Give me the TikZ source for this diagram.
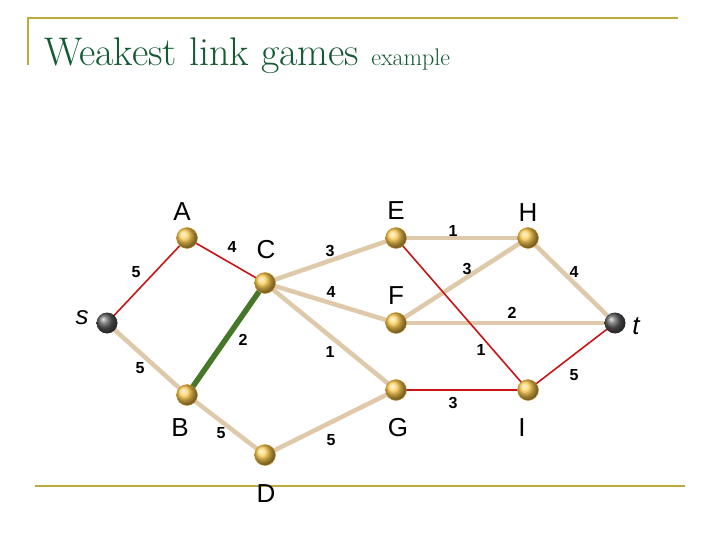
\documentclass[tikz,border=0pt]{standalone}
\usepackage{fontspec}
\setsansfont{Liberation Sans}
\begin{document}
\begin{tikzpicture}[x=1pt,y=-1pt,
  ball/.style={circle,inner sep=0pt,minimum size=21pt,shading=ball,ball color={rgb,255:red,255;green,205;blue,80},draw={rgb,255:red,210;green,150;blue,40},line width=0.4pt},
  gball/.style={circle,inner sep=0pt,minimum size=21pt,shading=ball,ball color=gray!70!black},
  tan/.style={line width=4.5pt,color={rgb,255:red,222;green,202;blue,170}},
  red/.style={line width=1.6pt,color={rgb,255:red,200;green,20;blue,20}},
  grn/.style={line width=5.5pt,color={rgb,255:red,70;green,120;blue,40}},
  lab/.style={font=\sffamily\bfseries\fontsize{16}{18}\selectfont},
  nm/.style={font=\sffamily\fontsize{26}{30}\selectfont}]
\useasboundingbox (0,0) rectangle (720,540);
\fill[white] (0,0) rectangle (720,540);
\draw[color={rgb,255:red,190;green,170;blue,60},line width=1.2pt] (28,65)--(28,18)--(678,18);
\draw[color={rgb,255:red,190;green,170;blue,60},line width=1.2pt] (35,486)--(685,486);
\node[anchor=base west,inner sep=0pt,text={rgb,255:red,20;green,90;blue,50}] (ttl) at (44,66) {\fontsize{40}{46}\selectfont Weakest link games \fontsize{24}{28}\selectfont example};
\coordinate (s) at (107,323); \coordinate (A) at (187,238); \coordinate (C) at (265,283);
\coordinate (E) at (396,238); \coordinate (H) at (528,238); \coordinate (F) at (396,323);
\coordinate (t) at (615,323); \coordinate (B) at (187,395); \coordinate (D) at (265,455);
\coordinate (G) at (396,390); \coordinate (I) at (528,390);
\draw[tan] (s)--(B); \draw[tan] (B)--(D); \draw[tan] (D)--(G);
\draw[tan] (C)--(E); \draw[tan] (C)--(F); \draw[tan] (C)--(G);
\draw[tan] (E)--(H); \draw[tan] (F)--(H); \draw[tan] (F)--(t); \draw[tan] (H)--(t);
\draw[red] (s)--(A); \draw[red] (A)--(C); \draw[red] (E)--(I); \draw[red] (G)--(I); \draw[red] (I)--(t);
\draw[grn] (C)--(B);
\foreach \n in {A,C,E,H,F,B,D,G,I} \node[ball] (b\n) at (\n) {};
\node[gball] (bs) at (s) {}; \node[gball] (bt) at (t) {};
\node[nm] (lA) at (182,212) {A}; \node[nm] (lC) at (266,250) {C}; \node[nm] (lE) at (396,211) {E};
\node[nm] (lH) at (528,213) {H}; \node[nm] (lF) at (396,296) {F}; \node[nm] (lB) at (180,428) {B};
\node[nm] (lD) at (266,494) {D}; \node[nm] (lG) at (398,428) {G}; \node[nm] (lI) at (522,428) {I};
\node[nm,font=\sffamily\itshape\fontsize{26}{30}\selectfont] (ls) at (82,318) {s};
\node[nm,font=\sffamily\itshape\fontsize{26}{30}\selectfont] (lt) at (636,326) {t};
\node[lab] at (136,272) {5}; \node[lab] at (232,247) {4}; \node[lab] at (140,368) {5};
\node[lab] at (243,340) {2}; \node[lab] at (221,433) {5}; \node[lab] at (331,440) {5};
\node[lab] at (330,251) {3}; \node[lab] at (331,292) {4}; \node[lab] at (330,352) {1};
\node[lab] at (453,231) {1}; \node[lab] at (467,269) {3}; \node[lab] at (574,272) {4};
\node[lab] at (512,313) {2}; \node[lab] at (481,350) {1}; \node[lab] at (574,375) {5};
\node[lab] at (453,403) {3};
\end{tikzpicture}
\end{document}
